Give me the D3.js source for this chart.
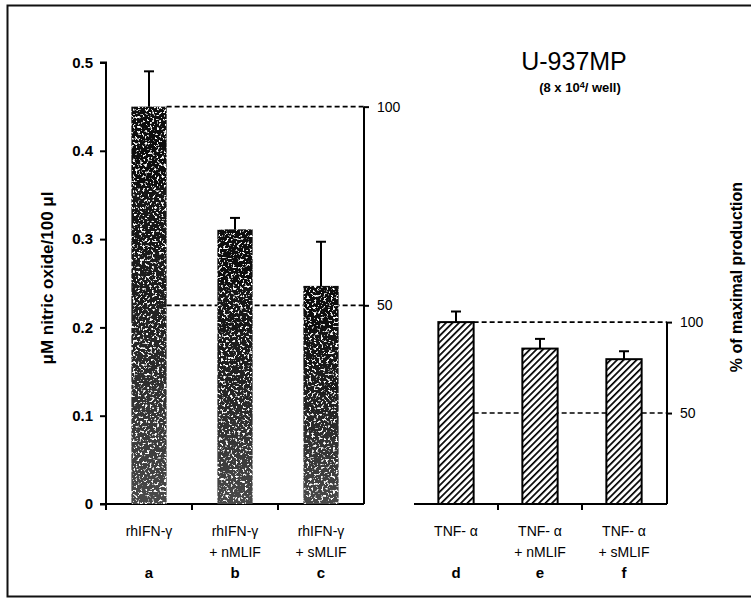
<!DOCTYPE html>
<html>
<head>
<meta charset="utf-8">
<script src="https://cdn.jsdelivr.net/npm/d3@7"></script>
<style>
	body { margin: 0; background: #fff; }
	text { font-family: Arial, "Liberation Sans", sans-serif; fill: #000; }
</style>
</head>
<body>
<svg id="chart" width="751" height="599"></svg>
<script>
// values (uM nitric oxide / 100 ul)
var ifnCats = ["a", "b", "c"];
var ifnLine1 = ["rhIFN-\u03b3", "rhIFN-\u03b3", "rhIFN-\u03b3"];
var ifnLine2 = ["", "+ nMLIF", "+ sMLIF"];
var ifnValues = [0.45, 0.311, 0.247];
var ifnErrors = [0.04, 0.013, 0.05];

var tnfCats = ["d", "e", "f"];
var tnfLine1 = ["TNF- \u03b1", "TNF- \u03b1", "TNF- \u03b1"];
var tnfLine2 = ["", "+ nMLIF", "+ sMLIF"];
var tnfValues = [0.206, 0.176, 0.164];
var tnfErrors = [0.012, 0.011, 0.009];

var yTicks = [0, 0.1, 0.2, 0.3, 0.4, 0.5];
var pctTicks = [50, 100];

var svg = d3.select("#chart");

// frame around the figure
svg.append("path")
	.attr("d", "M751,5.5 L7.5,5.5 L7.5,596.5 L751,596.5")
	.attr("fill", "none")
	.attr("stroke", "#111")
	.attr("stroke-width", 2);

var defs = svg.append("defs");

var grad = defs.append("linearGradient")
	.attr("id", "darkgrad")
	.attr("x1", 0).attr("y1", 0).attr("x2", 0).attr("y2", 1);
grad.append("stop").attr("offset", "0%").attr("stop-color", "#080808");
grad.append("stop").attr("offset", "55%").attr("stop-color", "#222");
grad.append("stop").attr("offset", "100%").attr("stop-color", "#4a4a4a");

// speckle texture (seeded turbulence)
var f = defs.append("filter").attr("id", "speck")
	.attr("x", 0).attr("y", 0).attr("width", "100%").attr("height", "100%");
f.append("feTurbulence").attr("type", "fractalNoise").attr("baseFrequency", 0.42)
	.attr("numOctaves", 2).attr("seed", 7).attr("result", "noise");
f.append("feColorMatrix").attr("in", "noise").attr("type", "matrix")
	.attr("values", "0 0 0 0 1  0 0 0 0 1  0 0 0 0 1  9 0 0 0 -5.2")
	.attr("result", "specks");
f.append("feComposite").attr("in", "specks").attr("in2", "SourceAlpha")
	.attr("operator", "in").attr("result", "sp");
var fm = f.append("feMerge");
fm.append("feMergeNode").attr("in", "SourceGraphic");
fm.append("feMergeNode").attr("in", "sp");

var hatch = defs.append("pattern")
	.attr("id", "hatch")
	.attr("patternUnits", "userSpaceOnUse")
	.attr("width", 4.6).attr("height", 4.6)
	.attr("patternTransform", "rotate(45)");
hatch.append("rect").attr("width", 4.6).attr("height", 4.6).attr("fill", "#fff");
hatch.append("rect").attr("x", 0).attr("width", 1.7).attr("height", 4.6).attr("fill", "#000");

var y = d3.scaleLinear().domain([0, 0.5]).range([504, 62.5]);

var xL = d3.scaleBand().domain(ifnCats).range([106, 364]).paddingInner(0.59).paddingOuter(0.295);
var xR = d3.scaleBand().domain(tnfCats).range([414, 666]).paddingInner(0.58).paddingOuter(0.29);

// left y axis
var gy = svg.append("g")
	.attr("transform", "translate(106,0)")
	.call(d3.axisLeft(y).tickValues(yTicks).tickSize(6).tickPadding(7)
		.tickFormat(function(d) { return d == 0 ? "0" : d3.format(".1f")(d); }));
gy.select(".domain").attr("stroke-width", 2).attr("d", "M-6,62.5H0V510");
gy.selectAll(".tick line").attr("stroke-width", 2);
gy.selectAll("text").style("font-size", "15px").style("font-weight", "bold");

svg.append("text")
	.attr("transform", "translate(53,278) rotate(-90)")
	.attr("text-anchor", "middle")
	.style("font-size", "17px")
	.style("font-weight", "bold")
	.text("\u03bcM nitric oxide/100 \u03bcl");

svg.append("text")
	.attr("transform", "translate(742,277) rotate(-90)")
	.attr("text-anchor", "middle")
	.style("font-size", "16px")
	.style("font-weight", "bold")
	.text("% of maximal production");

// title
svg.append("text")
	.attr("x", 574).attr("y", 70)
	.attr("text-anchor", "middle")
	.style("font-size", "25px")
	.text("U-937MP");
var sub = svg.append("text")
	.attr("x", 580).attr("y", 92)
	.attr("text-anchor", "middle")
	.style("font-size", "13px")
	.style("font-weight", "bold");
sub.append("tspan").text("(8 x 10");
sub.append("tspan").attr("dy", -4).style("font-size", "9px").text("4");
sub.append("tspan").attr("dy", 4).text("/ well)");

function drawPanel(x, cats, values, errors, line1, line2, fill, filter, axisX, baseStart) {
	var g = svg.append("g");
	var ref = values[0];
	var pct = d3.scaleLinear().domain([0, 100]).range([y(0), y(ref)]);
	var refRight = x(cats[0]) + x.bandwidth();

	// dashed reference lines (behind bars)
	g.selectAll(".ref")
		.data(pctTicks)
		.enter().append("line")
		.attr("x1", refRight)
		.attr("x2", axisX)
		.attr("y1", function(d) { return pct(d); })
		.attr("y2", function(d) { return pct(d); })
		.attr("stroke", "#000")
		.attr("stroke-width", 1.6)
		.attr("stroke-dasharray", "5,3");

	// baseline with ticks between groups
	var gx = g.append("g")
		.attr("transform", "translate(0," + y(0) + ")")
		.call(d3.axisBottom(x).tickSize(0).tickFormat(""));
	gx.select(".domain").attr("stroke-width", 2).attr("d", "M" + baseStart + ",0H" + axisX);
	gx.selectAll(".between")
		.data(cats.slice(1))
		.enter().append("line")
		.attr("x1", function(d) { return x(d) - x.step() * x.paddingInner() / 2; })
		.attr("x2", function(d) { return x(d) - x.step() * x.paddingInner() / 2; })
		.attr("y1", 0).attr("y2", 6)
		.attr("stroke", "#000").attr("stroke-width", 2);

	// error bars (upward only)
	var eb = g.selectAll(".err")
		.data(cats)
		.enter().append("g");
	eb.append("line")
		.attr("x1", function(d) { return x(d) + x.bandwidth() / 2; })
		.attr("x2", function(d) { return x(d) + x.bandwidth() / 2; })
		.attr("y1", function(d, i) { return y(values[i]); })
		.attr("y2", function(d, i) { return y(values[i] + errors[i]); })
		.attr("stroke", "#000").attr("stroke-width", 2);
	eb.append("line")
		.attr("x1", function(d) { return x(d) + x.bandwidth() / 2 - 5; })
		.attr("x2", function(d) { return x(d) + x.bandwidth() / 2 + 5; })
		.attr("y1", function(d, i) { return y(values[i] + errors[i]); })
		.attr("y2", function(d, i) { return y(values[i] + errors[i]); })
		.attr("stroke", "#000").attr("stroke-width", 2);

	// bars
	var bars = g.selectAll(".bar")
		.data(cats)
		.enter().append("rect")
		.attr("x", function(d) { return x(d); })
		.attr("y", function(d, i) { return y(values[i]); })
		.attr("width", x.bandwidth())
		.attr("height", function(d, i) { return y(0) - y(values[i]); })
		.attr("fill", fill);
	if (filter) {
		bars.attr("filter", filter);
	} else {
		bars.attr("stroke", "#000").attr("stroke-width", 2);
	}

	// right percentage axis
	var ga = g.append("g")
		.attr("transform", "translate(" + axisX + ",0)")
		.call(d3.axisRight(pct).tickValues(pctTicks).tickSize(5).tickPadding(8));
	ga.select(".domain").attr("stroke-width", 2).attr("d", "M0," + pct(100) + "V" + y(0));
	ga.selectAll(".tick line").attr("stroke-width", 2);
	ga.selectAll("text").style("font-size", "14px");

	// category labels
	var lab = g.selectAll(".lab")
		.data(cats)
		.enter().append("g")
		.attr("transform", function(d) { return "translate(" + (x(d) + x.bandwidth() / 2) + ",0)"; });
	lab.append("text").attr("y", 536).attr("text-anchor", "middle")
		.style("font-size", "14px")
		.text(function(d, i) { return line1[i]; });
	lab.append("text").attr("y", 557).attr("text-anchor", "middle")
		.style("font-size", "14px")
		.text(function(d, i) { return line2[i]; });
	lab.append("text").attr("y", 578).attr("text-anchor", "middle")
		.style("font-size", "15px").style("font-weight", "bold")
		.text(function(d) { return d; });
}

drawPanel(xL, ifnCats, ifnValues, ifnErrors, ifnLine1, ifnLine2, "url(#darkgrad)", "url(#speck)", 364, 100);
drawPanel(xR, tnfCats, tnfValues, tnfErrors, tnfLine1, tnfLine2, "url(#hatch)", null, 667, 414);
</script>
</body>
</html>
